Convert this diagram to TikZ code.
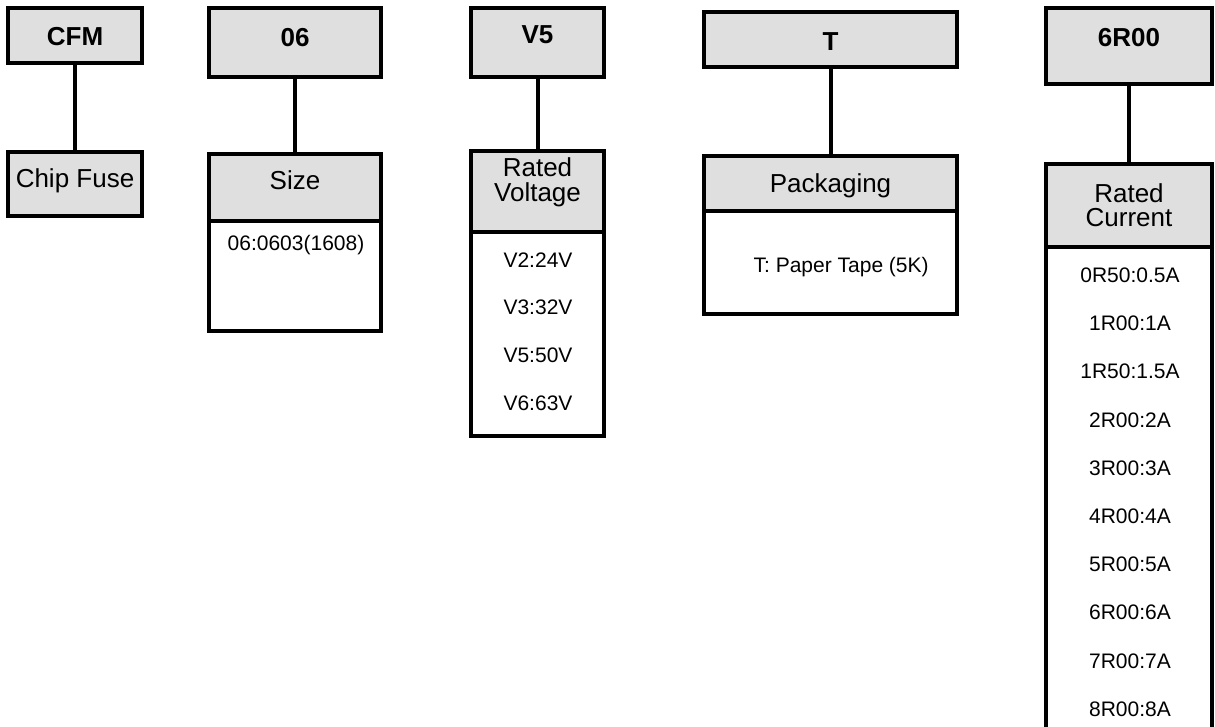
\documentclass[tikz,border=0pt]{standalone}
\usepackage{fontspec}
\setmainfont{Liberation Sans}
\definecolor{cfill}{HTML}{DFDFDF}
\tikzset{
  every picture/.style={line width=3.2pt},
  codebox/.style={draw=black, fill=cfill, anchor=north west, inner sep=0pt, outer sep=0pt, font=\fontsize{26}{30}\selectfont\bfseries},
  namebox/.style={draw=black, fill=cfill, anchor=north west, inner sep=0pt, outer sep=0pt, align=center, font=\fontsize{26}{25}\selectfont},
  listbox/.style={draw=black, fill=white, anchor=north west, inner sep=0pt, outer sep=0pt},
  item/.style={inner sep=0pt, text height=15pt, text depth=0pt, font=\fontsize{21}{25}\selectfont},
  link/.style={draw=black, line width=4pt},
}

\begin{document}
\begin{tikzpicture}[x=1pt, y=-1pt]
  \useasboundingbox (0,0) rectangle (1215,726);
  \clip (0,0) rectangle (1215,726);
  % code letters
  \node[codebox, minimum width=134pt, text height=37pt, text depth=18pt] (cfm) at (8,8) {CFM};
  \node[codebox, minimum width=172pt, text height=38pt, text depth=31pt] (code06) at (209,8) {06};
  \node[codebox, minimum width=133pt, text height=35pt, text depth=34pt] (codev5) at (471,8) {V5};
  \node[codebox, minimum width=253pt, text height=38pt, text depth=17pt] (codet) at (704,12) {T};
  \node[codebox, minimum width=166pt, text height=38pt, text depth=38pt] (code6r) at (1046,8) {6R00};
  % value lists
  \node[listbox, minimum width=172pt, minimum height=110pt] (sizelist) at (209,221) {};
  \node[listbox, minimum width=133pt, minimum height=204pt] (voltlist) at (471,232) {};
  \node[listbox, minimum width=253pt, minimum height=103pt] (packlist) at (704,211) {};
  \node[listbox, minimum width=166pt, minimum height=520pt] (currlist) at (1046,247) {};
  % what each code means
  \node[namebox, minimum width=134pt, text height=35pt, text depth=29pt] (chip) at (8,152) {Chip Fuse};
  \node[namebox, minimum width=172pt, text height=35pt, text depth=32pt] (size) at (209,154) {Size};
  \node[namebox, minimum width=133pt, text height=50pt, text depth=31pt] (volt) at (471,151) {Rated\\Voltage};
  \node[namebox, minimum width=253pt, text height=36pt, text depth=19pt] (pack) at (704,156) {Packaging};
  \node[namebox, minimum width=166pt, text height=62pt, text depth=21pt, font=\fontsize{26}{24}\selectfont] (curr) at (1046,164) {Rated\\Current};
  \foreach \s/\t in {cfm/chip, code06/size, codev5/volt, codet/pack, code6r/curr} {
    \draw[link] (\s) -- (\t);
  }
  % entries
  \node[item] (s1) at (296,243) {06:0603(1608)};
  \foreach \y/\t [count=\i] in {260/V2:24V, 307/V3:32V, 355/V5:50V, 403/V6:63V} {
    \node[item] (v\i) at (538,\y) {\t};
  }
  \node[item, anchor=west] (p1) at (752,265) {T: Paper Tape (5K)};
  \foreach \t [count=\i] in {0R50:0.5A, 1R00:1A, 1R50:1.5A, 2R00:2A, 3R00:3A, 4R00:4A, 5R00:5A, 6R00:6A, 7R00:7A, 8R00:8A} {
    \node[item] (c\i) at (1130,{275+48.2*(\i-1)}) {\t};
  }
\end{tikzpicture}
\end{document}
